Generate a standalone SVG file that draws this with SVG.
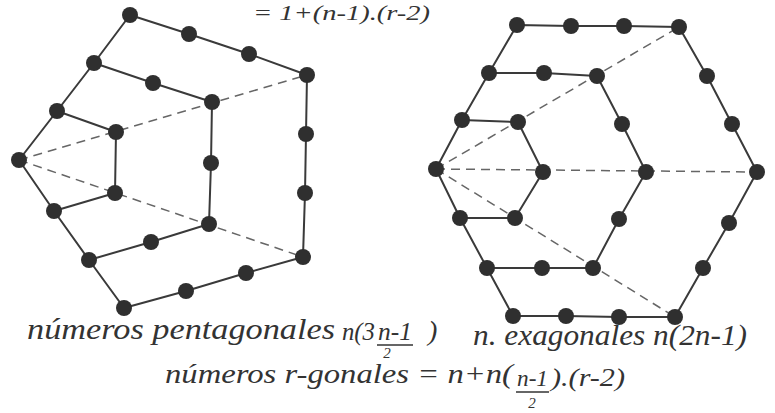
<svg xmlns="http://www.w3.org/2000/svg" width="775" height="413" viewBox="0 0 775 413">
<style>
.s{fill:none;stroke:#3a3a3a;stroke-width:2;stroke-linejoin:round}
.d{fill:none;stroke:#666;stroke-width:1.5;stroke-dasharray:9 6}
.n circle{fill:#2f2f2f}
.t{font-family:"Liberation Serif","DejaVu Serif",serif;font-style:italic;fill:#333}
.u{stroke:#333;stroke-width:1.6}
</style>
<rect width="775" height="413" fill="#fff"/>
<g id="connectors">
<polyline class="s" points="19,160 57,111 94,63 130,15 189,34 249,54 307,75 306,134 305,193 303,257 246,273 186,291 124,308 89,260 54,211 19,160"/>
<polyline class="s" points="57,111 116,132 115,193 54,211"/>
<polyline class="s" points="94,63 153,83 212,102 211,163 209,224 151,242 89,260"/>
<line class="d" x1="19" y1="160" x2="307" y2="75"/>
<line class="d" x1="19" y1="160" x2="303" y2="257"/>
<polyline class="s" points="436,169 462,120 489,73 517,25 571,26 624,26 679,27 707,76 732,124 757,172 729,223 703,268 675,317 619,317 566,316 513,316 487,268 460,218 436,169"/>
<polyline class="s" points="462,120 518,122 543,172 515,218 460,218"/>
<polyline class="s" points="489,73 544,73 597,76 622,124 646,172 619,219 593,268 542,268 487,268"/>
<line class="d" x1="436" y1="169" x2="679" y2="27"/>
<line class="d" x1="436" y1="169" x2="757" y2="172"/>
<line class="d" x1="436" y1="169" x2="675" y2="317"/>
</g>
<g id="pentagon-nodes">
<g id="p1" class="n"><circle cx="19" cy="160" r="8"/></g>
<g id="p2" class="n"><circle cx="57" cy="111" r="8"/></g>
<g id="p3" class="n"><circle cx="94" cy="63" r="8"/></g>
<g id="p4" class="n"><circle cx="130" cy="15" r="8"/></g>
<g id="p5" class="n"><circle cx="189" cy="34" r="8"/></g>
<g id="p6" class="n"><circle cx="249" cy="54" r="8"/></g>
<g id="p7" class="n"><circle cx="307" cy="75" r="8"/></g>
<g id="p8" class="n"><circle cx="306" cy="134" r="8"/></g>
<g id="p9" class="n"><circle cx="305" cy="193" r="8"/></g>
<g id="p10" class="n"><circle cx="303" cy="257" r="8"/></g>
<g id="p11" class="n"><circle cx="246" cy="273" r="8"/></g>
<g id="p12" class="n"><circle cx="186" cy="291" r="8"/></g>
<g id="p13" class="n"><circle cx="124" cy="308" r="8"/></g>
<g id="p14" class="n"><circle cx="89" cy="260" r="8"/></g>
<g id="p15" class="n"><circle cx="54" cy="211" r="8"/></g>
<g id="p16" class="n"><circle cx="116" cy="132" r="8"/></g>
<g id="p17" class="n"><circle cx="115" cy="193" r="8"/></g>
<g id="p18" class="n"><circle cx="153" cy="83" r="8"/></g>
<g id="p19" class="n"><circle cx="212" cy="102" r="8"/></g>
<g id="p20" class="n"><circle cx="211" cy="163" r="8"/></g>
<g id="p21" class="n"><circle cx="209" cy="224" r="8"/></g>
<g id="p22" class="n"><circle cx="151" cy="242" r="8"/></g>
</g>
<g id="hexagon-nodes">
<g id="h1" class="n"><circle cx="436" cy="169" r="8"/></g>
<g id="h2" class="n"><circle cx="462" cy="120" r="8"/></g>
<g id="h3" class="n"><circle cx="489" cy="73" r="8"/></g>
<g id="h4" class="n"><circle cx="517" cy="25" r="8"/></g>
<g id="h5" class="n"><circle cx="571" cy="26" r="8"/></g>
<g id="h6" class="n"><circle cx="624" cy="26" r="8"/></g>
<g id="h7" class="n"><circle cx="679" cy="27" r="8"/></g>
<g id="h8" class="n"><circle cx="707" cy="76" r="8"/></g>
<g id="h9" class="n"><circle cx="732" cy="124" r="8"/></g>
<g id="h10" class="n"><circle cx="757" cy="172" r="8"/></g>
<g id="h11" class="n"><circle cx="729" cy="223" r="8"/></g>
<g id="h12" class="n"><circle cx="703" cy="268" r="8"/></g>
<g id="h13" class="n"><circle cx="675" cy="317" r="8"/></g>
<g id="h14" class="n"><circle cx="619" cy="317" r="8"/></g>
<g id="h15" class="n"><circle cx="566" cy="316" r="8"/></g>
<g id="h16" class="n"><circle cx="513" cy="316" r="8"/></g>
<g id="h17" class="n"><circle cx="487" cy="268" r="8"/></g>
<g id="h18" class="n"><circle cx="460" cy="218" r="8"/></g>
<g id="h19" class="n"><circle cx="518" cy="122" r="8"/></g>
<g id="h20" class="n"><circle cx="543" cy="172" r="8"/></g>
<g id="h21" class="n"><circle cx="515" cy="218" r="8"/></g>
<g id="h22" class="n"><circle cx="544" cy="73" r="8"/></g>
<g id="h23" class="n"><circle cx="597" cy="76" r="8"/></g>
<g id="h24" class="n"><circle cx="622" cy="124" r="8"/></g>
<g id="h25" class="n"><circle cx="646" cy="172" r="8"/></g>
<g id="h26" class="n"><circle cx="619" cy="219" r="8"/></g>
<g id="h27" class="n"><circle cx="593" cy="268" r="8"/></g>
<g id="h28" class="n"><circle cx="542" cy="268" r="8"/></g>
</g>
<g id="labels">
<text class="t" x="253" y="20" font-size="22" textLength="177" lengthAdjust="spacingAndGlyphs">= 1+(n-1).(r-2)</text>
<text class="t" x="27" y="339" font-size="29" textLength="308" lengthAdjust="spacingAndGlyphs">números pentagonales</text>
<text class="t" x="342" y="340" font-size="26" textLength="33" lengthAdjust="spacingAndGlyphs">n(3</text>
<text class="t" x="378" y="340" font-size="26" textLength="34" lengthAdjust="spacingAndGlyphs">n-1</text>
<text class="t" x="428" y="340" font-size="28">)</text>
<line class="u" x1="377" y1="345" x2="413" y2="345"/>
<text class="t" x="387" y="358" font-size="15" text-anchor="middle">2</text>
<text class="t" x="473" y="345" font-size="29" textLength="274" lengthAdjust="spacingAndGlyphs">n. exagonales n(2n-1)</text>
<text class="t" x="165" y="383" font-size="28" textLength="348" lengthAdjust="spacingAndGlyphs">números r-gonales = n+n(</text>
<text class="t" x="517" y="386" font-size="24" textLength="31" lengthAdjust="spacingAndGlyphs">n-1</text>
<line class="u" x1="516" y1="392" x2="549" y2="392"/>
<text class="t" x="551" y="386" font-size="26" textLength="74" lengthAdjust="spacingAndGlyphs">).(r-2)</text>
<text class="t" x="532" y="408" font-size="15" text-anchor="middle">2</text>
</g>
</svg>
